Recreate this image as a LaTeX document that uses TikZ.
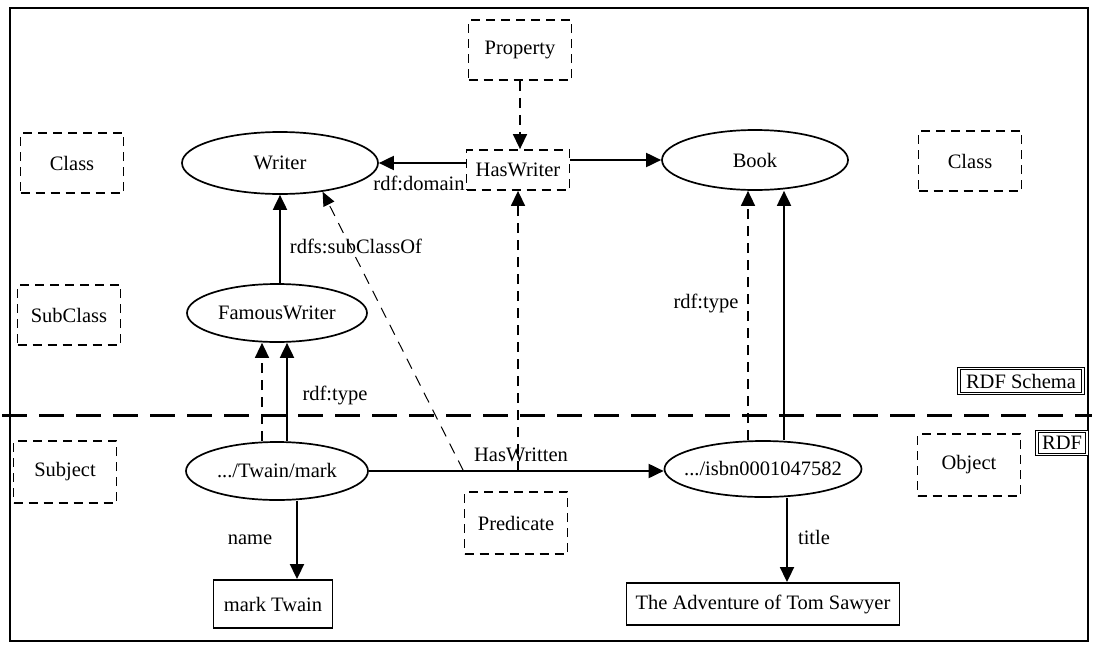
\documentclass[tikz,border=0pt]{standalone}
\usepackage{fontspec}
\setmainfont{Liberation Serif}
\usetikzlibrary{arrows.meta,shapes.geometric,calc}

\begin{document}
\begin{tikzpicture}[x=1pt,y=-1pt,
  font=\fontsize{20.5}{24}\selectfont,
  every node/.style={inner sep=0pt},
  role/.style={draw, dash pattern=on 9pt off 6pt, line width=1.8pt,
    minimum width=103pt, minimum height=60pt},
  cls/.style={ellipse, draw, line width=1.7pt},
  lit/.style={draw, line width=1.9pt},
  tag/.style={draw, line width=1.1pt, double, double distance=1.6pt},
  tip/.style={-{Triangle[length=15pt,width=14pt]}},
  link/.style={tip, line width=1.9pt},
  dlink/.style={tip, line width=1.5pt, dash pattern=on 10pt off 7pt},
  rangelink/.style={line width=1pt, dash pattern=on 11pt off 8pt,
    -{Triangle[length=14pt,width=12pt]}},
  lbl/.style={}
]
\useasboundingbox (0,0) rectangle (1094,645);

% outer frame
\draw[line width=2.8pt] (10,8) rectangle (1088,641);

% layer separator between RDF Schema and RDF
\coordinate (sepL) at (2,415);
\coordinate (sepR) at (1092,415);
\draw[line width=3pt, dash pattern=on 25pt off 12pt] (sepL) -- (sepR);

% role boxes
\node[role] (propRole) at (520,50) {Property};
\node[role, minimum height=40pt] (hasWriter) at (518,170) {HasWriter};
\node[role] (classL) at (72,163) {Class};
\node[role] (classR) at (970,161) {Class};
\node[role] (subRole) at (69,315) {SubClass};
\node[role, minimum height=62pt] (subjRole) at (65,472) {Subject};
\node[role, minimum height=62pt] (predRole) at (516,523) {Predicate};
\node[role, minimum height=62pt] (objRole) at (969,465) {Object};

% classes and resources
\node[cls, minimum width=196pt, minimum height=62pt] (writer) at (280,163) {\makebox[0pt]{Writer}};
\node[cls, minimum width=186pt, minimum height=60pt] (book) at (755,160) {\makebox[0pt]{Book}};
\node[cls, minimum width=180pt, minimum height=58pt] (famous) at (277,313) {\makebox[0pt]{FamousWriter}};
\node[cls, minimum width=182pt, minimum height=58pt] (twain) at (277,471) {\makebox[0pt]{.../Twain/mark}};
\node[cls, minimum width=197pt, minimum height=56pt] (isbn) at (763,469) {\makebox[0pt]{.../isbn0001047582}};

% literals
\node[lit, minimum width=119pt, minimum height=48pt] (markTwain) at (273,604) {mark Twain};
\node[lit, minimum width=273pt, minimum height=42pt] (tomSawyer) at (763,604) {The Adventure of Tom Sawyer};

% layer tags
\node[tag, minimum width=124pt, minimum height=25pt] (schemaTag) at (1021,381) {RDF Schema};
\node[tag, minimum width=50pt, minimum height=23pt] (rdfTag) at (1062,443) {RDF};

% schema level
\draw[dlink] (propRole.south) -- (propRole.south |- hasWriter.north);
\draw[link] (hasWriter.west |- writer.east) -- (writer.east);
\node[lbl] (domainLbl) at (419,183) {rdf:domain};
\draw[link] (hasWriter.east |- book.west) -- (book.west);
\draw[link] (writer.south |- famous.north) -- (writer.south);
\node[lbl] (subLbl) at (356,246) {rdfs:subClassOf};

% typing links
\draw[dlink] ([xshift=-15pt]twain.north) -- ([xshift=-15pt]twain.north |- famous.south);
\draw[link] ([xshift=10pt]twain.north) -- ([xshift=10pt]twain.north |- famous.south);
\node[lbl] (typeLblA) at (335,395) {rdf:type};
\draw[dlink] ([xshift=-15pt]isbn.north) -- ([xshift=-15pt]isbn.north |- book.south);
\draw[link] ([xshift=21pt]isbn.north) -- ([xshift=21pt]isbn.north |- book.south);
\node[lbl] (typeLblB) at (706,303) {rdf:type};

% instance level
\draw[link] (twain.east) -- (twain.east -| isbn.west);
\node[lbl] (writtenLbl) at (521,455) {HasWritten};
\draw[dlink] (hasWriter.south |- twain.east) -- (hasWriter.south);
\coordinate (rangeStart) at ($(twain.east)!0.32!(isbn.west)$);
\draw[rangelink] (rangeStart) -- (writer.-34);

\draw[link] ([xshift=20pt]twain.south) -- ([xshift=20pt]twain.south |- markTwain.north);
\node[lbl] (nameLbl) at (250,540) {name};
\draw[link] ([xshift=24pt]isbn.south) -- ([xshift=24pt]isbn.south |- tomSawyer.north);
\node[lbl] (titleLbl) at (814,537) {title};
\end{tikzpicture}
\end{document}
